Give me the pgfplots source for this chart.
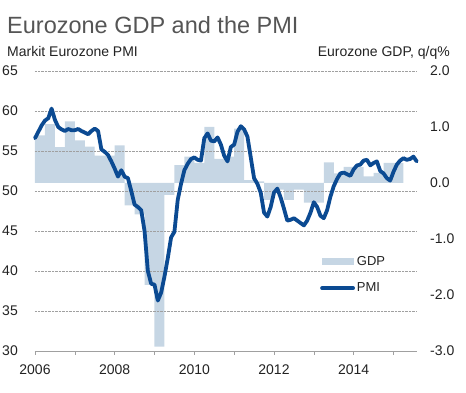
\documentclass[border=0pt]{standalone}
\usepackage{pgfplots}
\pgfplotsset{compat=1.18}
\usepackage{pgfplotstable}
\usepackage{fontspec}
\setmainfont{Liberation Sans}
\definecolor{pmiblue}{HTML}{0B4A92}
\definecolor{gdpfill}{HTML}{C6D6E4}
\definecolor{titlegray}{HTML}{555555}
\definecolor{txt}{HTML}{222222}
\definecolor{gridc}{HTML}{A0A0A0}

\pgfplotstableread{
q gdp
0 0.85
1 1.05
2 0.64
3 1.10
4 0.76
5 0.65
6 0.49
7 0.49
8 0.67
9 -0.40
10 -0.56
11 -1.82
12 -2.92
13 -0.21
14 0.32
15 0.47
16 0.36
17 1.00
18 0.43
19 0.47
20 0.97
21 0.05
22 0.03
23 -0.30
24 -0.12
25 -0.30
26 -0.12
27 -0.35
28 -0.35
29 0.37
30 0.17
31 0.29
32 0.29
33 0.12
34 0.18
35 0.36
36 0.36
37 0.36
}\gdptable

\pgfplotstableread{
m pmi
0 56.6
1 57.4
2 58.2
3 58.8
4 59.1
5 60.3
6 58.9
7 58.0
8 57.7
9 57.5
10 57.75
11 57.6
12 57.6
13 57.75
14 57.5
15 57.3
16 57.1
17 57.5
18 57.8
19 57.5
20 55.2
21 54.9
22 54.5
23 53.7
24 52.8
25 51.8
26 52.6
27 51.8
28 51.6
29 50.0
30 48.3
31 48.0
32 47.6
33 45.0
34 40.0
35 38.4
36 38.3
37 36.3
38 37.3
39 39.3
40 41.6
41 44.2
42 44.9
43 48.9
44 50.9
45 52.6
46 53.4
47 54.0
48 54.2
49 53.9
50 53.8
51 56.6
52 57.2
53 56.3
54 56.2
55 56.7
56 55.8
57 54.4
58 53.7
59 55.5
60 55.8
61 57.4
62 58.1
63 57.7
64 56.8
65 54.2
66 51.6
67 50.9
68 49.8
69 47.3
70 46.8
71 48.0
72 49.8
73 50.3
74 49.2
75 47.8
76 46.3
77 46.4
78 46.6
79 46.3
80 46.0
81 45.7
82 46.3
83 47.3
84 48.6
85 48.0
86 46.9
87 46.6
88 47.6
89 49.3
90 50.6
91 51.5
92 52.2
93 52.3
94 52.1
95 51.9
96 52.7
97 53.2
98 53.3
99 53.8
100 53.9
101 53.2
102 53.5
103 53.7
104 52.5
105 52.2
106 51.6
107 51.3
108 52.4
109 53.3
110 53.8
111 54.1
112 53.9
113 54.0
114 54.3
115 53.7
}\pmitable

\begin{document}
\begin{tikzpicture}[x=1pt,y=1pt]
\useasboundingbox (-35,-42) rectangle (431,351);
% GDP axis (right)
\begin{axis}[
  at={(0,0)}, anchor=south west,
  scale only axis, width=382pt, height=280pt,
  xmin=2006, xmax=2015.59, ymin=-3, ymax=2,
  axis x line=none,
  axis y line*=right,
  y axis line style={draw=none},
  ytick={-3,-2,-1,0,1,2},
  ytick style={draw=none},
  yticklabel style={anchor=west, inner sep=0pt, xshift=13pt,
    font=\fontsize{14}{14}\selectfont, text=txt,
    /pgf/number format/fixed, /pgf/number format/fixed zerofill,
    /pgf/number format/precision=1, /pgf/number format/assume math mode=true},
]
\addplot[ybar interval, fill=gdpfill, draw=none] table[x expr=2006+\thisrow{q}/4, y=gdp] {\gdptable};
\end{axis}
% PMI axis (left)
\begin{axis}[
  at={(0,0)}, anchor=south west,
  scale only axis, width=382pt, height=280pt,
  xmin=2006, xmax=2015.59, ymin=30, ymax=65,
  axis x line*=bottom, axis y line*=left,
  y axis line style={draw=none},
  x axis line style={draw=gridc, line width=0.6pt},
  ytick={30,35,...,65}, ytick style={draw=none},
  ymajorgrids, grid style={densely dotted, gridc, line width=0.5pt},
  xtick={2006,2008,...,2014}, minor xtick={2007,2009,...,2015},
  tick align=outside, major tick length=4pt, minor tick length=4pt,
  xtick style={draw=gridc, line width=0.6pt},
  xticklabel style={font=\fontsize{14}{14}\selectfont, text=txt, inner sep=0pt, yshift=-10pt,
    /pgf/number format/1000 sep=, /pgf/number format/assume math mode=true},
  yticklabel style={anchor=east, inner sep=0pt, xshift=-13pt,
    font=\fontsize{14}{14}\selectfont, text=txt, /pgf/number format/assume math mode=true},
  clip=false,
  legend style={at={(rel axis cs:0.746,0.346)}, anchor=north west, draw=none, fill=none,
    font=\fontsize{13}{13}\selectfont, text=txt, row sep=12pt, inner sep=0pt},
  legend cell align=left,
]
\addlegendimage{legend image code/.code={\fill[gdpfill] (0pt,-3pt) rectangle (31pt,3pt);}}
\addlegendentry{GDP}
\addplot[pmiblue, line width=3.8pt, line join=round, line cap=round,
  legend image code/.code={\draw[pmiblue, line width=3.8pt, line cap=round] (0pt,0pt) -- (31pt,0pt);}]
  table[x expr=2006+\thisrow{m}/12, y=pmi] {\pmitable};
\addlegendentry{PMI}
\end{axis}
\node[anchor=base west, inner sep=0pt, text=titlegray, font=\fontsize{23.5}{23.5}\selectfont] at (-28,317) {Eurozone GDP and the PMI};
\node[anchor=base west, inner sep=0pt, text=txt, font=\fontsize{14}{14}\selectfont] at (-28,294.3) {Markit Eurozone PMI};
\node[anchor=base east, inner sep=0pt, text=txt, font=\fontsize{14}{14}\selectfont] at (415,294.3) {Eurozone GDP, q/q\%};
\end{tikzpicture}
\end{document}
